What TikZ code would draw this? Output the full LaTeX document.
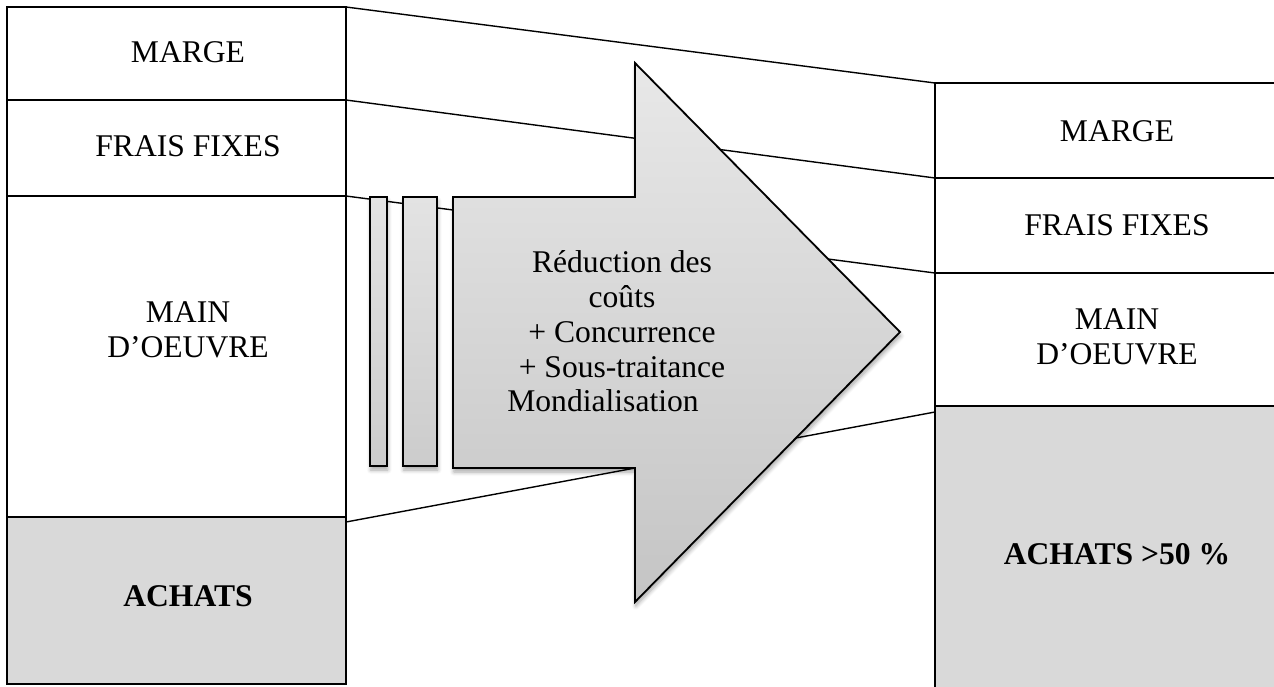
\documentclass[tikz,border=0pt]{standalone}
\usepackage{fontspec}
\setmainfont{Liberation Serif}
\usetikzlibrary{calc,shadows.blur}

\definecolor{cellgray}{HTML}{D9D9D9}

\tikzset{
  % table cells, coordinates are in image pixels (1px = 0.5pt)
  cell/.style={draw, line width=1.4pt, inner sep=0pt, outer sep=0pt},
  txt/.style={inner sep=0pt, outer sep=0pt, align=center,
              font=\fontsize{15.8pt}{17.4pt}\selectfont},
  link/.style={line width=0.7pt},
  softshadow/.style={blur shadow={shadow xshift=0.4pt, shadow yshift=-2pt,
              shadow blur radius=2pt, shadow blur steps=6, shadow opacity=35}},
  bar/.style={draw, line width=0.9pt, inner sep=0pt, outer sep=0pt,
              top color=black!11, bottom color=black!20, softshadow},
  arrowbody/.style={draw, line width=0.9pt, line join=miter,
              top color=black!9, bottom color=black!23, softshadow},
}

\begin{document}
\begin{tikzpicture}[x=0.5pt, y=-0.5pt]
  \useasboundingbox (0,0) rectangle (1274,686);
  \clip (0,0) rectangle (1274,686);

  % ---- left column: original cost structure ----
  \node[cell, minimum width=169.5pt, minimum height=46.5pt]  (lmarge)  at (176.5,53.5)  {};
  \node[cell, minimum width=169.5pt, minimum height=48pt]    (lfrais)  at (176.5,148)   {};
  \node[cell, minimum width=169.5pt, minimum height=160.5pt] (lmain)   at (176.5,356.5) {};
  \node[cell, fill=cellgray, minimum width=169.5pt, minimum height=83.5pt] (lachats) at (176.5,600.5) {};

  \node[txt] (tlmarge)  at ($(lmarge.center)+(11.5,-1.5)$)  {MARGE};
  \node[txt] (tlfrais)  at ($(lfrais.center)+(11.5,-1.5)$)  {FRAIS FIXES};
  \node[txt] (tlmain)   at ($(lmain.center)+(11.5,-27)$)    {MAIN\\D’OEUVRE};
  \node[txt, font=\fontsize{15.8pt}{17.4pt}\selectfont\bfseries] (tlachats) at ($(lachats.center)+(11.5,-4)$) {ACHATS};

  % ---- right column: new cost structure (runs past the right edge) ----
  \node[cell, minimum width=182pt, minimum height=47.5pt] (rmarge) at (1117,130.5) {};
  \node[cell, minimum width=182pt, minimum height=47.5pt] (rfrais) at (1117,225.5) {};
  \node[cell, minimum width=182pt, minimum height=66.5pt] (rmain)  at (1117,339.5) {};
  \node[cell, fill=cellgray, minimum width=182pt, minimum height=147pt] (rachats) at (1117,553) {};

  \node[txt] (trmarge) at ($(rmarge.center)+(0,1)$)  {MARGE};
  \node[txt] (trfrais) at (rfrais.center)            {FRAIS FIXES};
  \node[txt] (trmain)  at ($(rmain.center)+(0,-2.5)$) {MAIN\\D’OEUVRE};
  \node[txt, font=\fontsize{15.8pt}{17.4pt}\selectfont\bfseries] (trachats) at ($(rachats.center)+(0,1)$) {ACHATS >50 \%};

  % ---- links between matching rows ----
  \draw[link] (lmarge.north east) -- (rmarge.north west);
  \draw[link] (lfrais.north east) -- (rfrais.north west);
  \draw[link] (lmain.north east)  -- (rmain.north west);
  \draw[link] ($(lachats.north east)+(0,5)$) -- ($(rachats.north west)+(0,6)$);

  % ---- big arrow with its two trailing bars ----
  \node[bar, minimum width=8.5pt,  minimum height=134.5pt] (bar1) at (378.5,331.5) {};
  \node[bar, minimum width=17pt,   minimum height=134.5pt] (bar2) at (420,331.5)   {};
  \path[arrowbody] (453,197) -- (635,197) -- (635,63) -- (900,332)
                   -- (635,602) -- (635,468) -- (453,468) -- cycle;

  \node[txt] (arrowtext) at (622,331.5)
    {Réduction des\\coûts\\+ Concurrence\\+ Sous-traitance\\Mondialisation\hspace*{19pt}};
\end{tikzpicture}
\end{document}
